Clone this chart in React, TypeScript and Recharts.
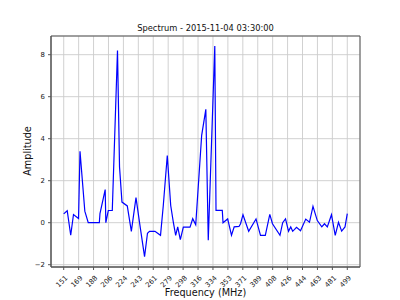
import React from 'react';
import { LineChart, Line, XAxis, YAxis, CartesianGrid, ReferenceArea } from 'recharts';

const TITLE = 'Spectrum - 2015-11-04 03:30:00';
const X_LABEL = 'Frequency (MHz)';
const Y_LABEL = 'Amplitude';

const FREQ_MHZ = [
  151.0, 155.3, 159.6, 163.0, 169.2, 171.0, 176.9, 181.1, 194.7, 195.5,
  201.9, 202.7, 205.7, 210.6, 217.0, 219.5, 222.5, 229.0, 234.0, 239.7,
  245.0, 250.2, 253.8, 256.3, 263.0, 269.8, 273.2, 278.1, 282.3, 285.5,
  288.4, 290.9, 294.1, 297.8, 306.0, 309.3, 313.0, 320.3, 325.4, 328.4,
  336.4, 337.9, 345.6, 346.5, 352.2, 356.9, 360.2, 366.1, 368.0, 371.0,
  378.0, 387.0, 392.5, 398.4, 403.9, 407.2, 416.4, 419.7, 423.2, 426.9,
  429.6, 432.0, 436.7, 441.6, 448.0, 452.6, 456.9, 462.2, 467.7, 471.0,
  474.5, 479.6, 484.2, 488.2, 492.1, 496.2, 499.0,
];

const AMPLITUDE = [
  0.42, 0.57, -0.6, 0.39, 0.2, 3.4, 0.55, 0.0, 0.0, 0.43,
  1.58, 0.0, 0.58, 0.58, 8.2, 2.65, 0.98, 0.8, -0.41, 1.19,
  -0.25, -1.62, -0.5, -0.41, -0.41, -0.6, 0.82, 3.2, 0.82, 0.03,
  -0.6, -0.2, -0.81, -0.21, -0.21, 0.19, -0.1, 4.16, 5.4, -0.84,
  8.41, 0.59, 0.59, 0.0, 0.18, -0.6, -0.2, -0.18, -0.05, 0.38,
  -0.41, 0.18, -0.6, -0.6, 0.4, -0.05, -0.6, 0.0, 0.18, -0.41,
  -0.2, -0.41, -0.22, -0.38, 0.17, 0.02, 0.78, 0.1, -0.2, -0.05,
  -0.2, 0.38, -0.6, 0.02, -0.4, -0.2, 0.43,
];

const X_TICK_LABELS = [
  '151', '169', '188', '206', '224', '243', '261', '279', '298', '316',
  '334', '353', '371', '389', '408', '426', '444', '463', '481', '499',
];
const X_FIRST = 151;
const X_LAST = 499;
const X_TICKS = X_TICK_LABELS.map(
  (_, i) => X_FIRST + (i * (X_LAST - X_FIRST)) / (X_TICK_LABELS.length - 1)
);

const Y_TICKS = [-2, 0, 2, 4, 6, 8];
const X_DOMAIN: [number, number] = [135.4, 514.6];
const Y_DOMAIN: [number, number] = [-2.11, 8.89];

const data = FREQ_MHZ.map((f, i) => ({ freq: f, amp: AMPLITUDE[i] }));

const FONT = '"DejaVu Sans", sans-serif';

const XTick = (props: any) => {
  const { x, y, index } = props;
  const ax = x + 3;
  const ay = y + 5;
  return (
    <text
      x={ax}
      y={ay}
      textAnchor="end"
      dominantBaseline="central"
      transform={`rotate(-45, ${ax}, ${ay})`}
      fontSize={6.9}
      fontFamily={FONT}
      fill="#222"
    >
      {X_TICK_LABELS[index]}
    </text>
  );
};

const fmtY = (v: number) => (v < 0 ? '\u2212' + Math.abs(v) : String(v));

export default function App() {
  return (
    <div style={{ position: 'absolute', left: 0, top: 0, width: 400, height: 300, background: '#fff' }}>
      <LineChart
        width={400}
        height={300}
        data={data}
        margin={{ top: 36, right: 40, bottom: 0, left: 0 }}
      >
        <CartesianGrid stroke="#cccccc" strokeWidth={0.9} vertical horizontal />
        <XAxis
          type="number"
          dataKey="freq"
          domain={X_DOMAIN}
          ticks={X_TICKS}
          interval={0}
          allowDataOverflow
          height={33}
          tickSize={3}
          tickMargin={2}
          stroke="#555"
          tickLine={{ stroke: '#555' }}
          tick={<XTick />}
        />
        <YAxis
          type="number"
          domain={Y_DOMAIN}
          ticks={Y_TICKS}
          allowDataOverflow
          width={51}
          tickSize={3}
          tickMargin={3}
          stroke="#555"
          tickFormatter={fmtY}
          tick={{ fontSize: 6.9, fontFamily: FONT, fill: '#222' }}
        />
        <ReferenceArea
          x1={X_DOMAIN[0]}
          x2={X_DOMAIN[1]}
          y1={Y_DOMAIN[0]}
          y2={Y_DOMAIN[1]}
          fill="none"
          fillOpacity={0}
          stroke="#555"
          strokeWidth={1}
          ifOverflow="visible"
        />
        <Line
          type="linear"
          dataKey="amp"
          stroke="#0000ff"
          strokeWidth={1.2}
          dot={false}
          isAnimationActive={false}
        />
      </LineChart>
      <div
        style={{
          position: 'absolute', left: 51, width: 309, top: 23, textAlign: 'center',
          fontFamily: FONT, fontSize: 8.3, color: '#111', lineHeight: '10px', whiteSpace: 'nowrap',
        }}
      >
        {TITLE}
      </div>
      <div
        style={{
          position: 'absolute', left: 51, width: 309, top: 287, textAlign: 'center',
          fontFamily: FONT, fontSize: 9.7, color: '#111', lineHeight: '12px', whiteSpace: 'nowrap',
        }}
      >
        {X_LABEL}
      </div>
      <div
        style={{
          position: 'absolute', left: 28 - 50, top: 151 - 6, width: 100, textAlign: 'center',
          fontFamily: FONT, fontSize: 9.7, color: '#111', lineHeight: '12px', whiteSpace: 'nowrap',
          transform: 'rotate(-90deg)', transformOrigin: '50% 50%',
        }}
      >
        {Y_LABEL}
      </div>
    </div>
  );
}
